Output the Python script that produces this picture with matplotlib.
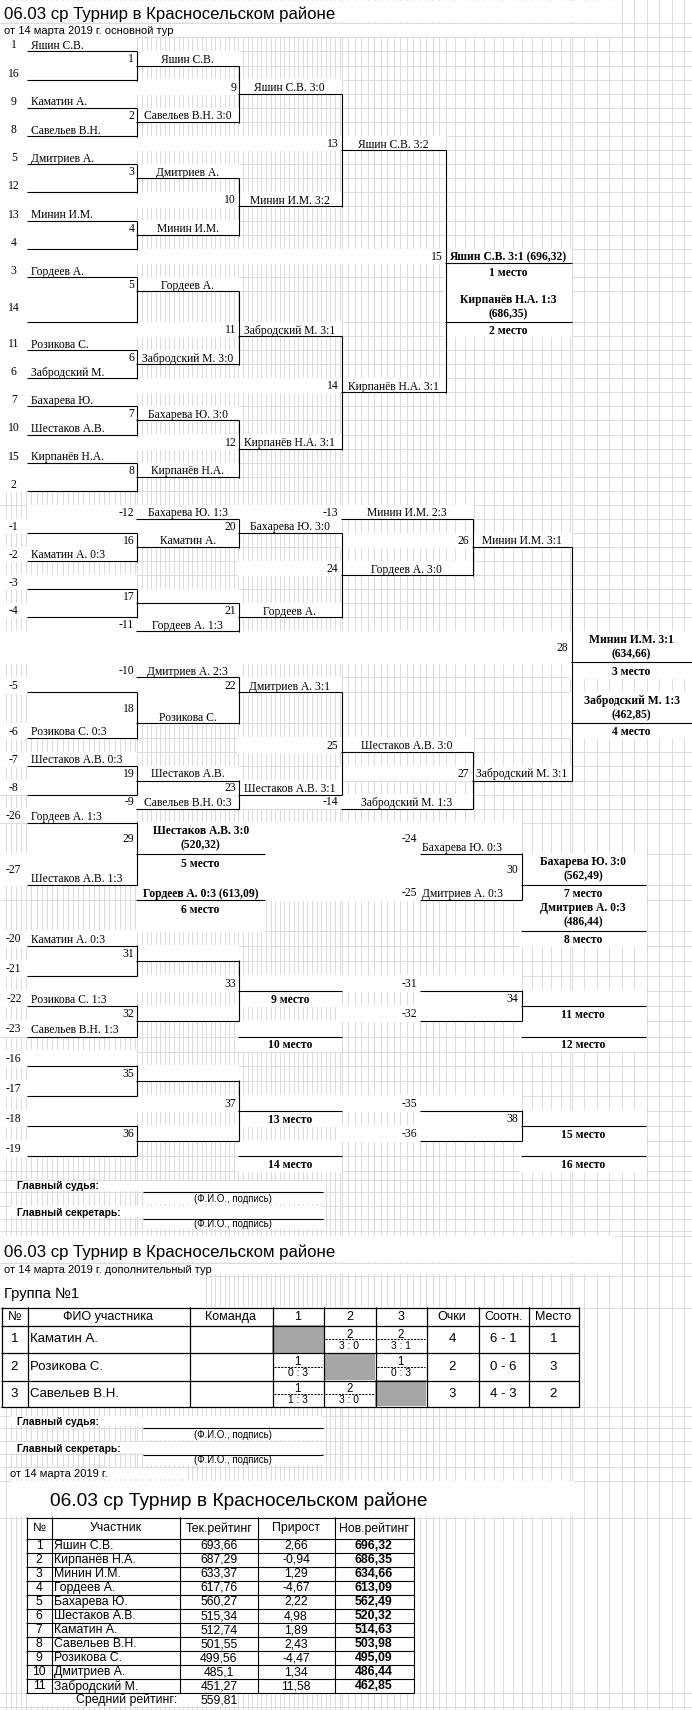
import matplotlib.pyplot as plt
from matplotlib.patches import Rectangle
import numpy as np

SANS = ['Liberation Sans', 'DejaVu Sans']
SERIF = ['Liberation Serif', 'DejaVu Serif']

# ---------- данные ----------
title = '06.03 ср Турнир в Красносельском районе'
sub_main = 'от 14 марта 2019 г. основной тур'
sub_extra = 'от 14 марта 2019 г. дополнительный тур'
sub_date = 'от 14 марта 2019 г.'

# основная сетка
seeds = ['1', '16', '9', '8', '5', '12', '13', '4', '3', '14', '11', '6', '7', '10', '15', '2']
players = ['Яшин С.В.', '', 'Каматин А.', 'Савельев В.Н.', 'Дмитриев А.', '', 'Минин И.М.', '',
           'Гордеев А.', '', 'Розикова С.', 'Забродский М.', 'Бахарева Ю.', 'Шестаков А.В.',
           'Кирпанёв Н.А.', '']
round1 = ['Яшин С.В.', 'Савельев В.Н. 3:0', 'Дмитриев А.', 'Минин И.М.',
          'Гордеев А.', 'Забродский М. 3:0', 'Бахарева Ю. 3:0', 'Кирпанёв Н.А.']
round2 = ['Яшин С.В. 3:0', 'Минин И.М. 3:2', 'Забродский М. 3:1', 'Кирпанёв Н.А. 3:1']
round3 = ['Яшин С.В. 3:2', 'Кирпанёв Н.А. 3:1']
final_win = 'Яшин С.В. 3:1 (696,32)'
final_lose = 'Кирпанёв Н.А. 1:3\n(686,35)'

# сетка за 3-е место
lb_seeds = ['-1', '-2', '-3', '-4', '-5', '-6', '-7', '-8']
lb_players = ['', 'Каматин А. 0:3', '', '', '', 'Розикова С. 0:3', 'Шестаков А.В. 0:3', '']
lb_r1 = ['Каматин А.', '', 'Розикова С.', 'Шестаков А.В.']
lb_drop2_lbl = ['-12', '-11', '-10', '-9']
lb_drop2 = ['Бахарева Ю. 1:3', 'Гордеев А. 1:3', 'Дмитриев А. 2:3', 'Савельев В.Н. 0:3']
lb_r2 = ['Бахарева Ю. 3:0', 'Гордеев А.', 'Дмитриев А. 3:1', 'Шестаков А.В. 3:1']
lb_r3 = ['Гордеев А. 3:0', 'Шестаков А.В. 3:0']
lb_drop3_lbl = ['-13', '-14']
lb_drop3 = ['Минин И.М. 2:3', 'Забродский М. 1:3']
lb_r4 = ['Минин И.М. 3:1', 'Забродский М. 3:1']
third = 'Минин И.М. 3:1\n(634,66)'
fourth = 'Забродский М. 1:3\n(462,85)'

# 5-8 места
p5_seeds = ['-26', '-27']
p5_players = ['Гордеев А. 1:3', 'Шестаков А.В. 1:3']
fifth = 'Шестаков А.В. 3:0\n(520,32)'
sixth = 'Гордеев А. 0:3 (613,09)'
p7_lbl = ['-24', '-25']
p7_players = ['Бахарева Ю. 0:3', 'Дмитриев А. 0:3']
seventh = 'Бахарева Ю. 3:0\n(562,49)'
eighth = 'Дмитриев А. 0:3\n(486,44)'

# 9-16 места
pl_seeds = ['-20', '-21', '-22', '-23', '-16', '-17', '-18', '-19']
pl_players = ['Каматин А. 0:3', '', 'Розикова С. 1:3', 'Савельев В.Н. 1:3', '', '', '', '']
pl_places_a = ['9 место', '10 место', '13 место', '14 место']
pl_drop_lbl = ['-31', '-32', '-35', '-36']
pl_places_b = ['11 место', '12 место', '15 место', '16 место']

# дополнительный тур, группа №1
group_head = ['№', 'ФИО участника', 'Команда', '1', '2', '3', 'Очки', 'Соотн.', 'Место']
group_players = ['Каматин А.', 'Розикова С.', 'Савельев В.Н.']
group_cell_pts = [[None, '2', '2'], ['1', None, '1'], ['1', '2', None]]
group_cell_score = [[None, '3 : 0', '3 : 1'], ['0 : 3', None, '0 : 3'], ['1 : 3', '3 : 0', None]]
group_points = [4, 2, 3]
group_ratio = ['6 - 1', '0 - 6', '4 - 3']
group_place = [1, 3, 2]

# рейтинг
rt_head = ['№', 'Участник', 'Тек.рейтинг', 'Прирост', 'Нов.рейтинг']
rt_names = ['Яшин С.В.', 'Кирпанёв Н.А.', 'Минин И.М.', 'Гордеев А.', 'Бахарева Ю.',
            'Шестаков А.В.', 'Каматин А.', 'Савельев В.Н.', 'Розикова С.', 'Дмитриев А.',
            'Забродский М.']
rt_cur = [693.66, 687.29, 633.37, 617.76, 560.27, 515.34, 512.74, 501.55, 499.56, 485.1, 451.27]
rt_delta = [2.66, -0.94, 1.29, -4.67, 2.22, 4.98, 1.89, 2.43, -4.47, 1.34, 11.58]
rt_new = [696.32, 686.35, 634.66, 613.09, 562.49, 520.32, 514.63, 503.98, 495.09, 486.44, 462.85]
rt_avg = 559.81

# ---------- разметка листа ----------
XB, XC, XD, XE, XF, XG, XFL = 27.6, 136.8, 238.6, 341, 445, 571, 472
XC5, XP0, XP1, XP2 = 264.5, 420, 521, 645.6
W, H = 692, 1710

row_h = [14.1] * 18 + [31] + [14.05] * 22 + [31.3] + [15] * 2 + [31] + [14.1] * 7 \
    + [31.3, 31, 15, 31] + [15] * 16
T = 37.8 + np.concatenate([[0], np.cumsum(row_h)])

fig = plt.figure(figsize=(W / 100, H / 100), dpi=100)
ax = fig.add_axes([0, 0, 1, 1])
ax.set_xlim(0, W)
ax.set_ylim(H, 0)
ax.axis('off')

GRID = '#dcdcdc'


def sn(v):
    return np.floor(v) + 0.5


def top(r):
    return T[r]


def bot(r):
    return T[r + 1]


def mid(r):
    return (T[r] + T[r + 1]) / 2


def cover(x0, x1, y0, y1, inset=False):
    if inset:
        ax.add_patch(Rectangle((x0 + 1, y0 + 1.2), x1 - x0 - 1, y1 - y0 - 2.2, fc='white', ec='none', zorder=1))
    else:
        ax.add_patch(Rectangle((x0 - 0.6, y0 - 0.6), x1 - x0 + 1.2, y1 - y0 + 1.2, fc='white', ec='none', zorder=1))


def hline(x0, x1, y, lw=0.8):
    ax.plot([sn(x0) - 0.5, sn(x1) + 0.5], [sn(y)] * 2, color='black', lw=lw,
            solid_capstyle='butt', zorder=3)


def vline(x, y0, y1, lw=0.8):
    ax.plot([sn(x)] * 2, [sn(y0) - 0.5, sn(y1) + 0.5], color='black', lw=lw,
            solid_capstyle='butt', zorder=3)


def txt(x, y, s, ha='left', va='baseline', size=8.4, bold=False, fam=SERIF, ls=1.25):
    ax.text(x, y, s, ha=ha, va=va, fontsize=size, fontweight='bold' if bold else 'normal',
            family=fam, linespacing=ls, zorder=4, color='black')


def seed_cell(r, seed, name):
    cover(0, XC, top(r), bot(r))
    txt(13.8, mid(r) + 0.5, seed, ha='center', va='center')
    txt(XB + 3, bot(r) - 3, name)
    hline(XB, XC, bot(r))


def label(r, x0, x1, s):
    cover(x0, x1, top(r), bot(r))
    txt(x1 - 2.5, mid(r) + 0.5, s, ha='right', va='center')


def box(r, x0, x1, s='', ha='center', bold=False, line=True, tall=False):
    cover(x0, x1, top(r), bot(r))
    if s:
        if tall:
            txt((x0 + x1) / 2, mid(r), s, ha='center', va='center', bold=bold)
        elif ha == 'center':
            txt((x0 + x1) / 2, bot(r) - 3, s, ha='center', bold=bold)
        else:
            txt(x0 + 2.5, bot(r) - 3, s, bold=bold)
    if line:
        hline(x0, x1, bot(r))


def place_top(r, x0, x1, s):
    cover(x0, x1, top(r), bot(r))
    txt((x0 + x1) / 2, top(r) + 12.5, s, ha='center', bold=True)


# ---------- сетка листа ----------
gx = np.concatenate([np.arange(5, XC, 5.2), np.arange(XC, XE, 4.6), np.arange(XE, XF, 6.5),
                     np.arange(XF, XG, 9.6), np.arange(XG, W, 12.5)])
for x in gx:
    ax.plot([sn(x)] * 2, [0, H], color=GRID, lw=0.72, zorder=0)
gy = list(T) + [23.3, 1179.3, 1191.7, 1205, 1218.3, 1230, 1235, 1262.7, 1275, 1307.7,
                1406.3, 1415, 1427.3, 1440.7, 1453.3, 1466.7, 1480, 1517.3, 1692.7, 1706.7]
for y in gy:
    ax.plot([0, W], [sn(y)] * 2, color=GRID, lw=0.72, zorder=0)

# ---------- шапка ----------
cover(0, 614, 0, 23.3, inset=True)
cover(0, 614, 23.3, T[0], inset=True)
txt(3.5, 18.5, title, size=12.1, fam=SANS)
txt(3.5, 34.3, sub_main, size=8.0, fam=SANS)

# ---------- основная сетка ----------
for i, (s, p) in enumerate(zip(seeds, players)):
    seed_cell(2 * i, s, p)
for k, w in enumerate(round1):
    r = 4 * k + 1
    label(r, 0, XC, str(k + 1))
    box(r, XC, XD, w)
    vline(XC, bot(r - 1), bot(r + 1))
for k, w in enumerate(round2):
    r = 8 * k + 3
    label(r, 0, XD, str(9 + k))
    box(r, XD, XE, w)
    vline(XD, bot(r - 2), bot(r + 2))
for k, w in enumerate(round3):
    r = 16 * k + 7
    label(r, 0, XE, str(13 + k))
    box(r, XE, XF, w)
    vline(XE, bot(r - 4), bot(r + 4))
label(15, 0, XF, '15')
box(15, XF, XG, final_win, bold=True)
vline(XF, bot(7), bot(23))
place_top(16, XF, XG, '1 место')
cover(XF, XG, top(17), bot(17))
box(18, XF, XG, final_lose, bold=True, tall=True)
box(19, XF, XG, '2 место', bold=True, line=False)

# ---------- сетка за 3-е место ----------
for s, p, r in zip(lb_seeds, lb_players, [33, 35, 37, 39, 43, 45, 47, 49]):
    seed_cell(r, s, p)
for k, (w, r) in enumerate(zip(lb_r1, [34, 38, 44, 48])):
    label(r, XB, XC, str(16 + k))
    box(r, XC, XD, w)
    vline(XC, bot(r - 1), bot(r + 1))
for s, w, r in zip(lb_drop2_lbl, lb_drop2, [32, 40, 42, 50]):
    label(r, XB, XC, s)
    box(r, XC, XD, w)
for k, (w, r) in enumerate(zip(lb_r2, [33, 39, 43, 49])):
    label(r, XC, XD, str(20 + k))
    box(r, XD, XE, w)
    vline(XD, bot(r - 1), bot(r + 1))
for k, (w, r) in enumerate(zip(lb_r3, [36, 46])):
    label(r, XD, XE, str(24 + k))
    box(r, XE, XFL, w)
    vline(XE, bot(r - 3), bot(r + 3))
for s, w, r in zip(lb_drop3_lbl, lb_drop3, [32, 50]):
    label(r, XD, XE, s)
    box(r, XE, XFL, w)
for k, (w, r) in enumerate(zip(lb_r4, [34, 48])):
    label(r, XE, XFL, str(26 + k))
    box(r, XFL, XG, w)
    vline(XFL, bot(r - 2), bot(r + 2))
cover(0, XG, top(41), bot(41))
label(41, XFL, XG, '28')
box(41, XG, W, third, bold=True, tall=True)
vline(XG, bot(34), bot(48))
box(42, XG, W, '3 место', bold=True, line=False)
box(44, XG, W, fourth, bold=True, tall=True)
box(45, XG, W, '4 место', bold=True, line=False)

# ---------- 5-8 места ----------
seed_cell(51, p5_seeds[0], p5_players[0])
seed_cell(53, p5_seeds[1], p5_players[1])
label(52, XB, XC, '29')
vline(XC, bot(51), bot(53))
cover(XC, XP0, top(52), bot(53))
box(52, XC, XC5, fifth, bold=True, tall=True)
place_top(53, XC, XC5, '5 место')
box(54, XC, XC5, sixth, bold=True)
place_top(55, XC, XC5, '6 место')

for s, p, r in zip(p7_lbl, p7_players, [52, 54]):
    label(r, XC5, XP0, s)
    box(r, XP0, XP1, p, ha='left')
label(53, XP0, XP1, '30')
vline(XP1, bot(52), bot(54))
box(53, XP1, XP2, seventh, bold=True, tall=True)
box(54, XP1, XP2, '7 место', bold=True, line=False)
box(55, XP1, XP2, eighth, bold=True, tall=True)
box(56, XP1, XP2, '8 место', bold=True, line=False)

# ---------- 9-16 места ----------
pl_rows = [56, 58, 60, 62, 64, 66, 68, 70]
for s, p, r in zip(pl_seeds, pl_players, pl_rows):
    seed_cell(r, s, p)
for lbl, r in zip(['31', '32', '35', '36'], [57, 61, 65, 69]):
    label(r, XB, XC, lbl)
    box(r, XC, XD)
    vline(XC, bot(r - 1), bot(r + 1))
for j, (lbl, r) in enumerate(zip(['33', '37'], [59, 67])):
    label(r, XB, XD, lbl)
    box(r, XD, XE)
    vline(XD, bot(r - 2), bot(r + 2))
    box(r + 1, XD, XE, pl_places_a[2 * j], bold=True, line=False)
    box(r + 3, XD, XE)
    box(r + 4, XD, XE, pl_places_a[2 * j + 1], bold=True, line=False)
for s, r in zip(pl_drop_lbl, [59, 61, 67, 69]):
    label(r, XE, XP0, s)
    box(r, XP0, XP1)
for j, (lbl, r) in enumerate(zip(['34', '38'], [60, 68])):
    label(r, XP0, XP1, lbl)
    box(r, XP1, XP2)
    vline(XP1, bot(r - 1), bot(r + 1))
    box(r + 1, XP1, XP2, pl_places_b[2 * j], bold=True, line=False)
    box(r + 2, XP1, XP2)
    box(r + 3, XP1, XP2, pl_places_b[2 * j + 1], bold=True, line=False)


# ---------- подписи ----------
def signatures(y0):
    rows = [y0, y0 + 12.4, y0 + 25.7, y0 + 39, y0 + 50.7]
    for k, name in enumerate(['Главный судья:', 'Главный секретарь:']):
        ya, yb, yc = rows[2 * k], rows[2 * k + 1], rows[2 * k + 2]
        cover(9.6, 142.5, ya, yb, inset=True)
        cover(143.4, 322.4, ya, yc, inset=True)
        txt(16.7, yb - 2.3, name, size=7.4, bold=True, fam=SANS)
        hline(143.4, 322.4, yb)
        txt(233, yc - 3, '(Ф.И.О., подпись)', ha='center', size=7.0, fam=SANS)


signatures(1179.3)

cover(0, 614, 1235, 1262.7, inset=True)
cover(0, 614, 1262.7, 1275, inset=True)
cover(0, 206, 1275, 1307.7, inset=True)
txt(3.5, 1257, title, size=12.1, fam=SANS)
txt(3.5, 1272.7, sub_extra, size=8.0, fam=SANS)
txt(3.5, 1297.5, 'Группа №1', size=10.6, fam=SANS)

# ---------- таблица группы ----------
gcols = [1.3, 27.2, 189.5, 272, 323.7, 375, 426.3, 478, 528.5, 578]
grows = [1307.7, 1325, 1352.7, 1380, 1406.3]
cover(gcols[0], gcols[-1], grows[0], grows[-1])
for i in range(3):
    c0, c1 = gcols[3 + i], gcols[4 + i]
    ax.add_patch(Rectangle((c0, grows[1 + i]), c1 - c0, grows[2 + i] - grows[1 + i],
                           fc='#a6a6a6', ec='none', zorder=2))
for y in grows:
    hline(gcols[0], gcols[-1], y, lw=0.9)
for x in gcols:
    vline(x, grows[0], grows[-1], lw=0.9)
for j, h in enumerate(group_head):
    txt((gcols[j] + gcols[j + 1]) / 2, (grows[0] + grows[1]) / 2 + 0.5, h, ha='center', va='center',
        size=9, fam=SANS)
for i, name in enumerate(group_players):
    ym = (grows[1 + i] + grows[2 + i]) / 2
    txt((gcols[0] + gcols[1]) / 2, ym + 0.5, str(i + 1), ha='center', va='center', size=9.5, fam=SANS)
    txt(gcols[1] + 2.5, ym + 0.5, name, va='center', size=9.5, fam=SANS)
    for j in range(3):
        if group_cell_pts[i][j] is None:
            continue
        c0, c1 = gcols[3 + j], gcols[4 + j]
        ax.plot([c0 + 1.5, c1 - 1.5], [sn(ym)] * 2, color='black', lw=0.75, ls=(0, (2, 1.2)), zorder=3)
        txt((c0 + c1) / 2, ym - 4, group_cell_pts[i][j], ha='center', va='center', size=8.3, fam=SANS)
        txt((c0 + c1) / 2, ym + 7, group_cell_score[i][j], ha='center', va='center', size=7.4, fam=SANS)
    for j, v in enumerate([group_points[i], group_ratio[i], group_place[i]]):
        txt((gcols[6 + j] + gcols[7 + j]) / 2, ym + 0.5, str(v), ha='center', va='center', size=9.5,
            fam=SANS)

signatures(1415)
cover(9.6, 188, 1466.7, 1480, inset=True)
txt(10.5, 1477, sub_date, size=8.0, fam=SANS)
cover(9.6, 575, 1480, 1517.3, inset=True)
txt(50.4, 1506, title, size=13.8, fam=SANS)

# ---------- рейтинг ----------
rcols = [26.3, 51.8, 179.8, 257.9, 334.2, 413.2]
rh = (1692.7 - 1538.3) / len(rt_names)
rrows = [1517.3] + list(1538.3 + rh * np.arange(len(rt_names) + 1))
cover(rcols[0], rcols[-1], rrows[0], rrows[-1])


def fmt(v):
    return ('%.2f' % v).rstrip('0').rstrip('.').replace('.', ',')


for y in rrows:
    hline(rcols[0], rcols[-1], y, lw=0.8)
for x in rcols:
    vline(x, rrows[0], rrows[-1], lw=0.8)
for j, h in enumerate(rt_head):
    txt((rcols[j] + rcols[j + 1]) / 2, (rrows[0] + rrows[1]) / 2 + 0.5, h, ha='center', va='center',
        size=8.8, fam=SANS)
for i, name in enumerate(rt_names):
    ym = (rrows[1 + i] + rrows[2 + i]) / 2 + 0.5
    txt((rcols[0] + rcols[1]) / 2, ym, str(i + 1), ha='center', va='center', size=8.8, fam=SANS)
    txt(rcols[1] + 2, ym, name, va='center', size=8.8, fam=SANS)
    txt((rcols[2] + rcols[3]) / 2, ym, fmt(rt_cur[i]), ha='center', va='center', size=8.8, fam=SANS)
    txt((rcols[3] + rcols[4]) / 2, ym, fmt(rt_delta[i]), ha='center', va='center', size=8.8, fam=SANS)
    txt((rcols[4] + rcols[5]) / 2, ym, fmt(rt_new[i]), ha='center', va='center', size=8.8, fam=SANS,
        bold=True)
cover(rcols[0], 237, 1692.7, 1706.7, inset=True)
txt(rcols[2] - 2.5, 1700, 'Средний рейтинг:', ha='right', va='center', size=8.8, fam=SANS)
txt((rcols[2] + rcols[3]) / 2, 1700, fmt(rt_avg), ha='center', va='center', size=8.8, fam=SANS)

fig.savefig('out.png', dpi=100)
